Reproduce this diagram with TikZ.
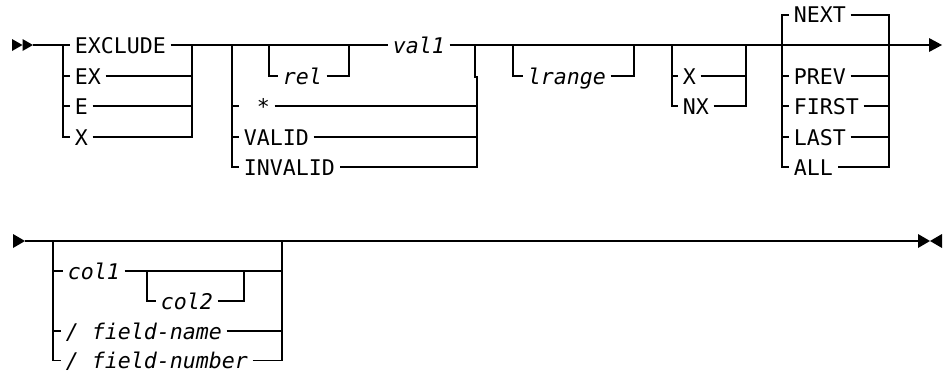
\documentclass[tikz,border=0pt]{standalone}
\usepackage{fontspec}
\setmonofont{DejaVu Sans Mono}
\begin{document}
\begin{tikzpicture}[x=1pt,y=-1pt,line width=1.6pt,line join=miter,
  lbl/.style={inner xsep=4pt,inner ysep=0pt,text height=16pt,text depth=0pt,anchor=west,
    font=\ttfamily\fontsize{21.6}{24}\selectfont},
  var/.style={lbl,font=\ttfamily\itshape\fontsize{21.6}{24}\selectfont},
  tip/.style={fill=black,draw=none}]
\useasboundingbox (0,0) rectangle (945,372);

% ---------- row 1 ----------
\coordinate (s1) at (33,45);
\fill[tip] (12,39) -- (22.5,45) -- (12,51) -- cycle;
\fill[tip] (22.5,39) -- (33,45) -- (22.5,51) -- cycle;
\coordinate (e1) at (929,45);
\fill[tip] (929,38) -- (942,45) -- (929,52) -- cycle;

% group 1
\coordinate (g1L) at (63,45);
\coordinate (g1R) at (192,45);
\node[lbl] (exclude) at (70,45) {EXCLUDE};
\node[lbl] (ex) at (70,76) {EX};
\node[lbl] (e) at (70,106) {E};
\node[lbl] (x1) at (70,137) {X};
\draw (s1) -- (exclude.west);
\draw (g1L) -- (g1L |- x1.west) -- (x1.west);
\draw (g1L |- ex.west) -- (ex.west);
\draw (g1L |- e.west) -- (e.west);
\draw (ex.east) -- (g1R |- ex.east);
\draw (e.east) -- (g1R |- e.east);
\draw (x1.east) -- (g1R |- x1.east) -- (g1R);

% group 2
\coordinate (g2L) at (232,45);
\coordinate (g2R) at (475,45);
\coordinate (g2J) at (475,77);
\coordinate (g2K) at (477,77);
\coordinate (rL) at (269,45);
\coordinate (rR) at (349,45);
\node[var] (rel) at (278,76) {rel};
\node[var] (val1) at (388,45) {val1};
\node[lbl] (star) at (239,106) {\hphantom{0}*};
\node[lbl] (valid) at (239,137) {VALID};
\node[lbl] (invalid) at (239,167) {INVALID};
\draw (exclude.east) -- (val1.west);
\draw (rL) -- (rL |- rel.west) -- (rel.west);
\draw (rel.east) -- (rR |- rel.east) -- (rR);
\draw (g2L) -- (g2L |- invalid.west) -- (invalid.west);
\draw (g2L |- star.west) -- (star.west);
\draw (g2L |- valid.west) -- (valid.west);
\draw (g2R) -- (g2J) -- (g2K) -- (g2K |- invalid.east) -- (invalid.east);
\draw (star.east) -- (g2K |- star.east);
\draw (valid.east) -- (g2K |- valid.east);

% main line onwards
\draw (val1.east) -- (e1);

% lrange
\coordinate (lrL) at (513,45);
\coordinate (lrR) at (634,45);
\node[var] (lrange) at (523,76) {lrange};
\draw (lrL) -- (lrL |- lrange.west) -- (lrange.west);
\draw (lrange.east) -- (lrR |- lrange.east) -- (lrR);

% X / NX
\coordinate (xL) at (672,45);
\coordinate (xR) at (746,45);
\node[lbl] (xx) at (678,76) {X};
\node[lbl] (nx) at (678,106) {NX};
\draw (xL) -- (xL |- nx.west) -- (nx.west);
\draw (xL |- xx.west) -- (xx.west);
\draw (xx.east) -- (xR |- xx.east);
\draw (nx.east) -- (xR |- nx.east) -- (xR);

% NEXT group
\coordinate (nL) at (782,45);
\coordinate (nR) at (889,45);
\node[lbl] (next) at (789,15) {NEXT};
\node[lbl] (prev) at (789,76) {PREV};
\node[lbl] (first) at (789,106) {FIRST};
\node[lbl] (last) at (789,137) {LAST};
\node[lbl] (all) at (789,167) {ALL};
\draw (next.west) -- (nL |- next.west) -- (nL |- all.west) -- (all.west);
\draw (nL |- prev.west) -- (prev.west);
\draw (nL |- first.west) -- (first.west);
\draw (nL |- last.west) -- (last.west);
\draw (next.east) -- (nR |- next.east) -- (nR |- all.east) -- (all.east);
\draw (prev.east) -- (nR |- prev.east);
\draw (first.east) -- (nR |- first.east);
\draw (last.east) -- (nR |- last.east);

% ---------- row 2 ----------
\coordinate (s2) at (25,241);
\coordinate (e2) at (918,241);
\fill[tip] (13,234) -- (25,241) -- (13,248) -- cycle;
\fill[tip] (918,234) -- (930,241) -- (918,248) -- cycle;
\fill[tip] (942,234) -- (930,241) -- (942,248) -- cycle;
\draw (s2) -- (e2);

\coordinate (cL) at (53,241);
\coordinate (cR) at (282,241);
\coordinate (c2L) at (147,271);
\coordinate (c2R) at (244,271);
\node[var] (col1) at (63,271) {col1};
\node[var] (col2) at (156,301) {col2};
\node[var] (fname) at (61,331) {/ field-name};
\node[var] (fnum) at (61,360.5) {/ field-number};
\draw (cL) -- (cL |- fnum.west) -- (fnum.west);
\draw (cL |- col1.west) -- (col1.west);
\draw (cL |- fname.west) -- (fname.west);
\draw (col1.east) -- (cR |- col1.east);
\draw (c2L) -- (c2L |- col2.west) -- (col2.west);
\draw (col2.east) -- (c2R |- col2.east) -- (c2R);
\draw (fname.east) -- (cR |- fname.east);
\draw (fnum.east) -- (cR |- fnum.east) -- (cR);
\end{tikzpicture}
\end{document}
